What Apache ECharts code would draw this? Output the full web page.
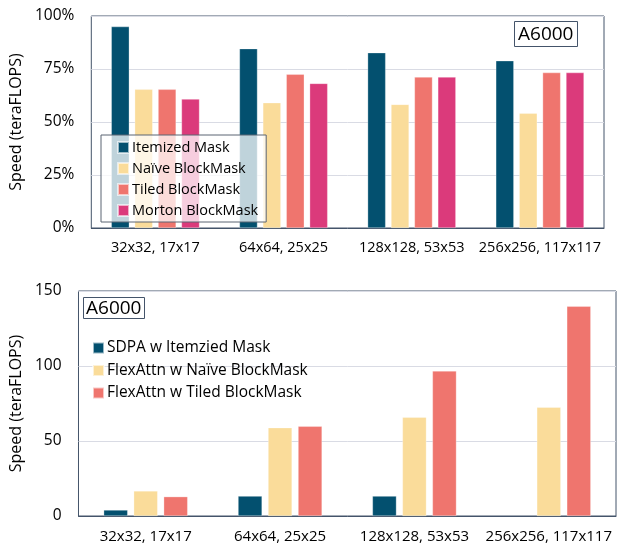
<!DOCTYPE html>
<html>
<head>
<meta charset="utf-8">
<script src="https://cdn.jsdelivr.net/npm/echarts@6/dist/echarts.min.js"></script>
<style>
  html, body { margin: 0; padding: 0; background: #fff; }
  #chart { width: 625px; height: 550px; }
</style>
</head>
<body>
<div id="chart"></div>
<script>
// categories (block size, grid size)
var categories = ["32x32, 17x17", "64x64, 25x25", "128x128, 53x53", "256x256, 117x117"];

// top chart: relative speed (% of peak)
var topNames = ["Itemized Mask", "Naïve BlockMask", "Tiled BlockMask", "Morton BlockMask"];
var itemizedPct = [95, 84.6, 82.7, 78.9];
var naivePct = [65.4, 59.1, 58.3, 54.1];
var tiledPct = [65.4, 72.5, 71.2, 73.3];
var mortonPct = [60.8, 68.2, 71.2, 73.3];
var topTicks = ["0%", "25%", "50%", "75%", "100%"];

// bottom chart: teraFLOPS
var bottomNames = ["SDPA w Itemzied Mask", "FlexAttn w Naïve BlockMask", "FlexAttn w Tiled BlockMask"];
var sdpaTf = [4, 13.3, 13.3, null];
var flexNaiveTf = [16.7, 58.9, 65.8, 72.5];
var flexTiledTf = [12.9, 59.8, 96.7, 139.8];

var colors = {
  blue: "#03506f",
  yellow: "#fadc9a",
  salmon: "#ef756e",
  pink: "#db3a7b"
};

var font = "Open Sans";
var chart = echarts.init(document.getElementById("chart"));

function bar(name, data, color, axis, width, gap) {
  return {
    name: name,
    type: "bar",
    xAxisIndex: axis,
    yAxisIndex: axis,
    data: data,
    barWidth: width,
    barGap: gap,
    itemStyle: { color: color, borderColor: "rgba(255,255,255,0.6)", borderWidth: 0.5 },
    animation: false
  };
}

var option = {
  animation: false,
  textStyle: { fontFamily: font },
  grid: [
    { left: 84, top: 16, right: 21, height: 212, show: true, borderColor: "#44546a", borderWidth: 1 },
    { left: 77, top: 291, right: 9, height: 225, show: true, borderColor: "#44546a", borderWidth: 1 }
  ],
  title: [
    {
      text: "A6000", left: 514, top: 21, padding: [4, 4, 3, 4],
      borderColor: "#44546a", borderWidth: 1,
      textStyle: { fontFamily: font, fontSize: 19, fontWeight: "normal", color: "#000" }
    },
    {
      text: "A6000", left: 83, top: 297, padding: [2, 3, 1, 3],
      borderColor: "#44546a", borderWidth: 1,
      textStyle: { fontFamily: font, fontSize: 19, fontWeight: "normal", color: "#000" }
    }
  ],
  legend: [
    {
      data: topNames, orient: "vertical", left: 101, top: 135,
      padding: [5, 8, 4, 16], itemGap: 6, itemWidth: 11, itemHeight: 11,
      icon: "rect",
      backgroundColor: "rgba(255,255,255,0.75)", borderColor: "#5a6472", borderWidth: 1,
      textStyle: { fontFamily: font, fontSize: 14.5, color: "#000", padding: [0, 0, 0, -2] }
    },
    {
      data: bottomNames, orient: "vertical", left: 87, top: 335,
      itemGap: 6.5, itemWidth: 11, itemHeight: 11, icon: "rect",
      textStyle: { fontFamily: font, fontSize: 15.5, color: "#000", padding: [0, 0, 0, -2] }
    }
  ],
  xAxis: [
    {
      type: "category", gridIndex: 0, data: categories,
      axisLine: { lineStyle: { color: "#44546a" } }, axisTick: { show: false },
      axisLabel: { color: "#000", fontSize: 14.5, margin: 12, interval: 0, fontFamily: font }
    },
    {
      type: "category", gridIndex: 1, data: categories,
      axisLine: { lineStyle: { color: "#44546a" } }, axisTick: { show: false },
      axisLabel: { color: "#000", fontSize: 15, margin: 13, interval: 0, fontFamily: font }
    }
  ],
  yAxis: [
    {
      type: "value", gridIndex: 0, min: 0, max: 100, interval: 25,
      name: "Speed (teraFLOPS)", nameLocation: "middle", nameGap: 57,
      nameTextStyle: { color: "#000", fontSize: 16, fontFamily: font },
      axisLine: { show: false }, axisTick: { show: false },
      axisLabel: {
        color: "#000", fontSize: 15.5, margin: 17, fontFamily: font,
        formatter: function (v) { return topTicks[Math.round(v / 25)]; }
      },
      splitLine: { lineStyle: { color: "#d9dbe4" } }
    },
    {
      type: "value", gridIndex: 1, min: 0, max: 150, interval: 50,
      name: "Speed (teraFLOPS)", nameLocation: "middle", nameGap: 49,
      nameTextStyle: { color: "#000", fontSize: 16, fontFamily: font },
      axisLine: { show: false }, axisTick: { show: false },
      axisLabel: { color: "#000", fontSize: 15.5, margin: 17, fontFamily: font },
      splitLine: { lineStyle: { color: "#d9dbe4" } }
    }
  ],
  series: [
    bar(topNames[0], itemizedPct, colors.blue, 0, 18, "30%"),
    bar(topNames[1], naivePct, colors.yellow, 0, 18, "30%"),
    bar(topNames[2], tiledPct, colors.salmon, 0, 18, "30%"),
    bar(topNames[3], mortonPct, colors.pink, 0, 18, "30%"),
    bar(bottomNames[0], sdpaTf, colors.blue, 1, 24, "25%"),
    bar(bottomNames[1], flexNaiveTf, colors.yellow, 1, 24, "25%"),
    bar(bottomNames[2], flexTiledTf, colors.salmon, 1, 24, "25%")
  ]
};

chart.setOption(option);
</script>
</body>
</html>
